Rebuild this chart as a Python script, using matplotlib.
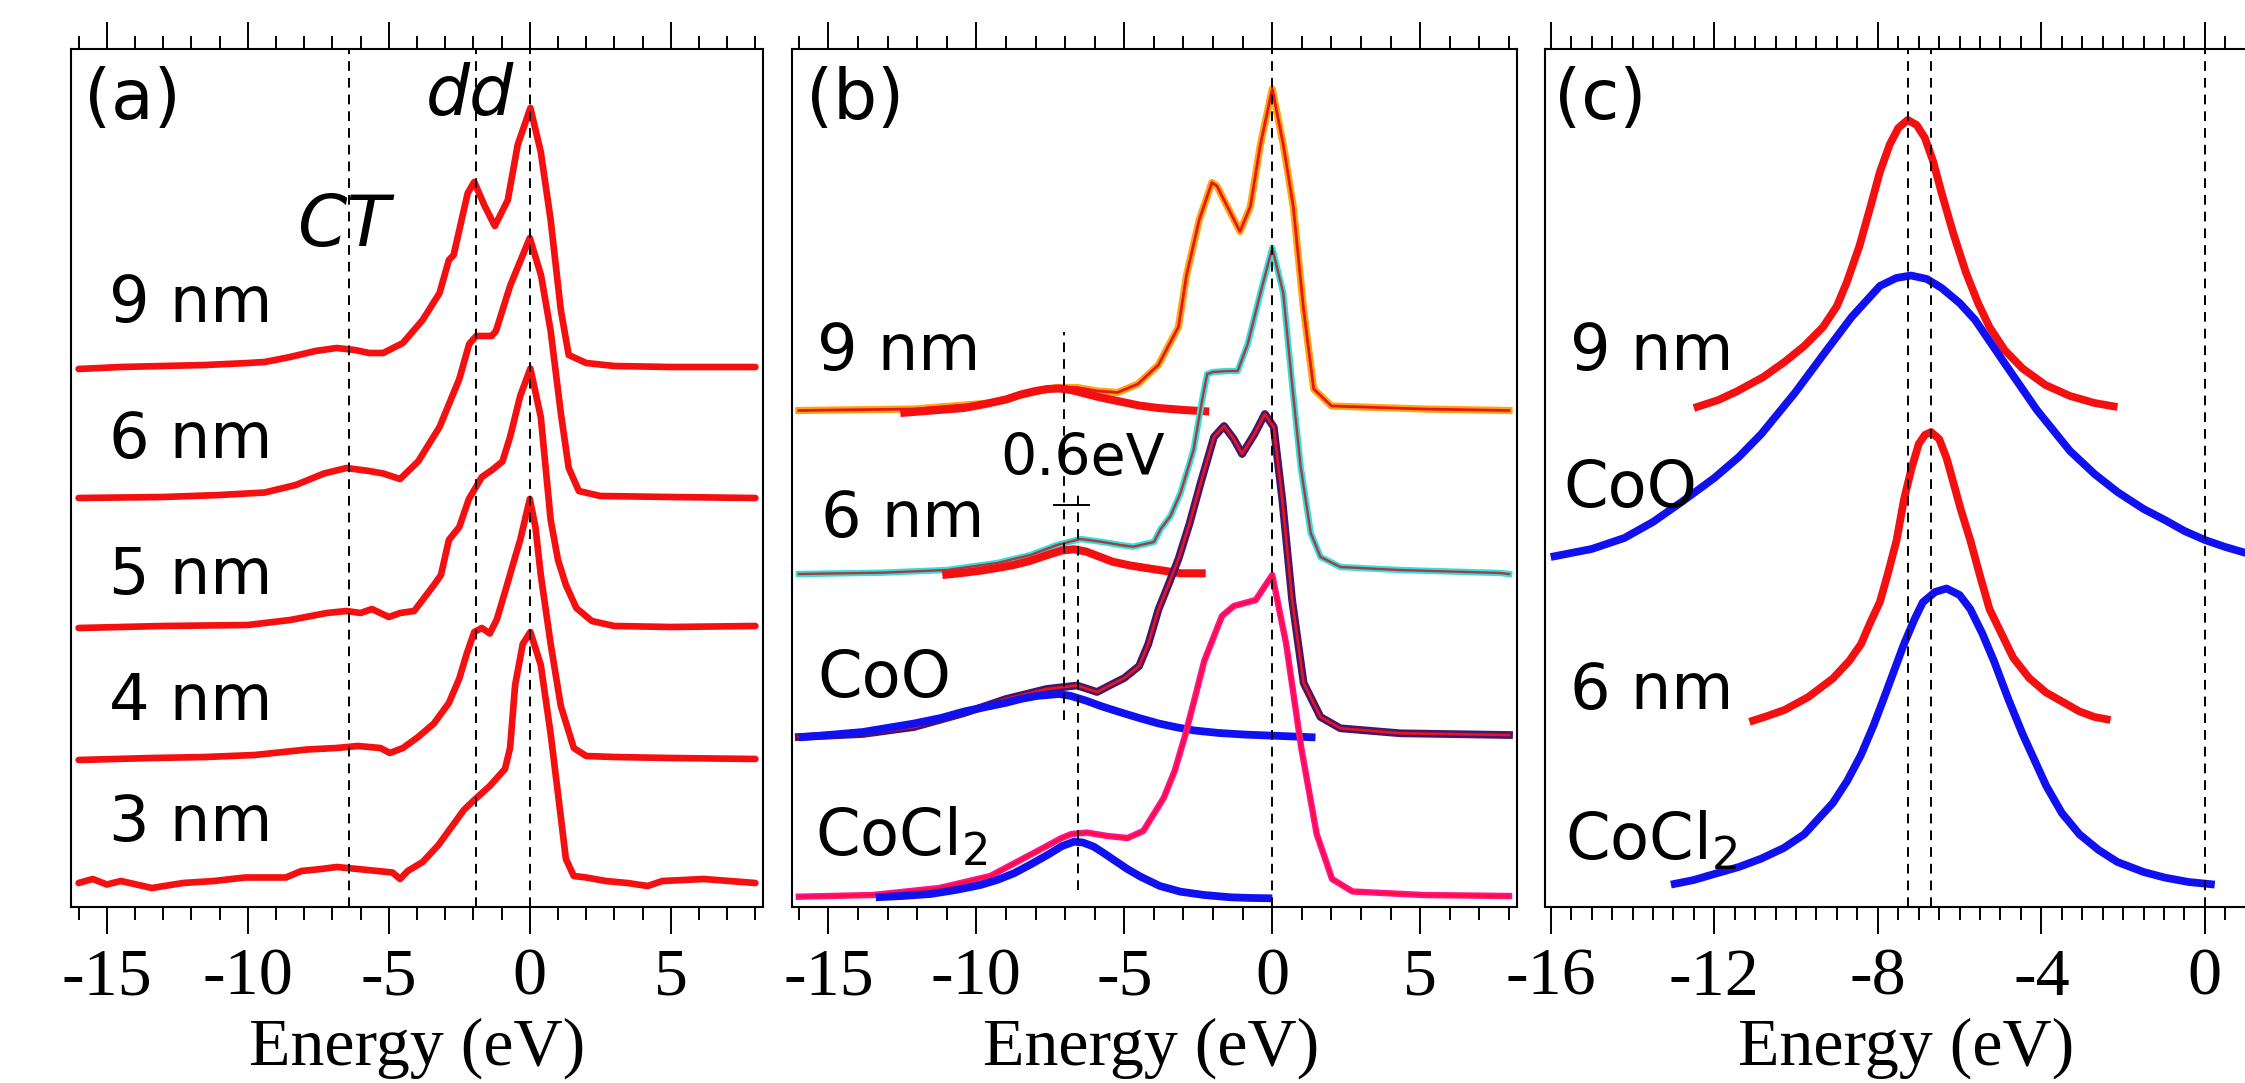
import matplotlib
matplotlib.use("Agg")
import matplotlib.pyplot as plt
from matplotlib.ticker import MultipleLocator

plt.rcParams["axes.unicode_minus"] = False
plt.rcParams["font.family"] = ["DejaVu Sans"]
plt.rcParams["mathtext.fontset"] = "dejavusans"

# ---------------- data: panel (a) ----------------
a_labels = ["9 nm", "6 nm", "5 nm", "4 nm", "3 nm"]
a_offsets = [5.39, 4.09, 2.80, 1.49, 0.24]

a9_E = [-16.0, -14.5, -13.0, -11.5, -10.0, -9.4, -8.5, -7.6, -6.85, -6.2, -5.7, -5.2, -4.5, -3.8, -3.2,
        -2.87, -2.7, -2.42, -2.2, -1.97, -1.6, -1.24, -0.78, -0.43, 0.02, 0.39, 0.74, 1.1, 1.38, 2.0, 3.0, 5.0, 8.0]
a9_I = [-0.01, 0.01, 0.02, 0.03, 0.05, 0.06, 0.11, 0.17, 0.20, 0.18, 0.15, 0.15, 0.25, 0.48, 0.75,
        1.08, 1.13, 1.48, 1.75, 1.86, 1.62, 1.42, 1.68, 2.23, 2.60, 2.16, 1.48, 0.58, 0.13, 0.05, 0.02, 0.01, 0.01]

a6_E = [-16.0, -13.0, -11.0, -9.4, -8.3, -7.3, -6.5, -5.7, -5.2, -4.6, -3.96, -3.2, -2.5, -2.15, -1.9,
        -1.35, -1.2, -0.7, -0.35, 0.0, 0.4, 0.74, 1.1, 1.38, 1.74, 2.5, 5.0, 8.0]
a6_I = [0.0, 0.01, 0.03, 0.055, 0.13, 0.245, 0.30, 0.27, 0.245, 0.19, 0.365, 0.71, 1.19, 1.54, 1.62,
        1.62, 1.67, 2.12, 2.36, 2.60, 2.225, 1.67, 0.85, 0.30, 0.07, 0.02, 0.01, 0.0]

a5_E = [-16.0, -13.0, -10.0, -8.5, -7.2, -6.5, -6.0, -5.6, -5.0, -4.6, -4.1, -3.4, -3.15, -2.87, -2.5,
        -2.16, -1.7, -1.34, -0.97, -0.70, -0.34, 0.02, 0.39, 0.74, 1.0, 1.28, 1.65, 2.2, 3.0, 5.0, 8.0]
a5_I = [-0.01, 0.01, 0.02, 0.07, 0.14, 0.16, 0.14, 0.18, 0.10, 0.14, 0.16, 0.42, 0.52, 0.87, 1.00,
        1.28, 1.50, 1.57, 1.655, 1.90, 2.31, 2.585, 2.10, 1.07, 0.67, 0.42, 0.19, 0.06, 0.01, 0.0, 0.01]

a4_E = [-16.0, -13.4, -11.5, -9.75, -7.9, -6.85, -6.1, -5.3, -4.96, -4.5, -3.96, -3.4, -2.87, -2.5, -2.24,
        -1.97, -1.7, -1.42, -1.17, -0.88, -0.52, -0.34, 0.0, 0.2, 0.39, 0.74, 1.1, 1.56, 2.0, 3.0, 5.0, 8.0]
a4_I = [-0.02, 0.0, 0.01, 0.03, 0.085, 0.10, 0.12, 0.10, 0.05, 0.10, 0.21, 0.345, 0.55, 0.795, 1.04,
        1.26, 1.30, 1.245, 1.385, 1.66, 2.01, 2.18, 2.59, 2.31, 1.83, 1.14, 0.52, 0.10, 0.02, 0.01, 0.0, -0.01]

a3_E = [-16.0, -15.5, -15.0, -14.5, -13.4, -12.3, -11.2, -10.1, -8.65, -8.1, -7.4, -6.85, -6.1, -5.4, -4.87,
        -4.6, -4.33, -3.8, -3.24, -2.7, -2.34, -1.97, -1.42, -0.88, -0.7, -0.52, -0.25, 0.02, 0.39, 0.74,
        1.1, 1.28, 1.56, 2.0, 2.7, 3.46, 4.18, 4.7, 6.17, 8.0]
a3_I = [0.0, 0.04, -0.015, 0.02, -0.05, 0.0, 0.02, 0.055, 0.055, 0.12, 0.14, 0.16, 0.14, 0.12, 0.105,
        0.04, 0.12, 0.21, 0.38, 0.59, 0.73, 0.83, 0.97, 1.14, 1.35, 1.98, 2.39, 2.51, 2.18, 1.49,
        0.66, 0.24, 0.07, 0.055, 0.02, 0.0, -0.03, 0.02, 0.04, 0.0]

a_dashes = [-6.42, -1.92, 0.0]

# ---------------- data: panel (b) ----------------
b_labels = ["9 nm", "6 nm", "CoO", "CoCl$_2$"]
b_offsets = [4.965, 3.33, 1.73, 0.11]

b9_E = [-16.0, -12.1, -9.54, -8.34, -7.3, -6.6, -5.9, -5.23, -4.54, -3.85, -3.17, -2.9, -2.47, -2.04,
        -1.87, -1.52, -1.09, -0.74, -0.4, 0.0, 0.37, 0.71, 1.06, 1.4, 2.0, 5.1, 8.0]
b9_I = [0.0, 0.015, 0.075, 0.165, 0.23, 0.23, 0.195, 0.18, 0.265, 0.455, 0.835, 1.35, 1.905, 2.28,
        2.245, 2.04, 1.79, 2.04, 2.66, 3.215, 2.66, 2.04, 1.005, 0.215, 0.045, 0.015, 0.0]
b9ct_E = [-12.57, -11.5, -10.42, -9.7, -9.0, -8.5, -8.0, -7.6, -7.2, -6.8, -6.27, -5.8, -5.23, -4.5,
          -3.85, -3.0, -2.13]
b9ct_I = [-0.025, 0.0, 0.025, 0.065, 0.11, 0.16, 0.195, 0.215, 0.22, 0.205, 0.165, 0.13, 0.095, 0.05,
          0.025, 0.005, -0.01]

b6_E = [-16.0, -13.2, -11.0, -9.3, -8.17, -7.27, -6.48, -5.8, -5.13, -4.7, -4.0, -3.77, -3.44, -3.1,
        -2.66, -2.37, -2.2, -2.0, -1.5, -1.17, -0.83, -0.4, 0.0, 0.37, 0.67, 0.96, 1.3, 1.63, 2.3, 4.3, 7.7, 8.0]
b6_I = [0.0, 0.013, 0.04, 0.11, 0.19, 0.29, 0.35, 0.323, 0.29, 0.273, 0.32, 0.45, 0.58, 0.81,
        1.24, 1.74, 2.0, 2.02, 2.03, 2.03, 2.30, 2.81, 3.26, 2.81, 1.90, 1.07, 0.41, 0.17, 0.07, 0.04, 0.01, 0.0]
b6ct_E = [-11.15, -10.5, -9.86, -9.3, -8.74, -8.2, -7.6, -7.1, -6.7, -6.3, -5.9, -5.4, -4.8, -4.2, -3.1, -2.25]
b6ct_I = [-0.01, 0.01, 0.033, 0.06, 0.09, 0.13, 0.19, 0.235, 0.247, 0.225, 0.18, 0.123, 0.085, 0.057,
          0.007, 0.007]

bCoO_E = [-16.0, -13.84, -12.1, -10.4, -9.0, -7.63, -6.6, -5.92, -5.4, -5.0, -4.5, -4.19, -3.84, -3.5,
          -3.17, -2.8, -2.42, -1.97, -1.63, -1.3, -1.02, -0.6, -0.25, 0.05, 0.34, 0.67, 1.06, 1.63, 2.3, 4.33, 8.0]
bCoO_I = [-0.03, 0.0, 0.07, 0.21, 0.35, 0.45, 0.485, 0.42, 0.50, 0.56, 0.68, 0.9, 1.25, 1.5,
          1.75, 2.1, 2.51, 2.97, 3.08, 2.95, 2.80, 3.0, 3.20, 3.07, 2.34, 1.34, 0.51, 0.17, 0.057, 0.007, -0.01]
bCoOfit_E = [-16.0, -15.0, -13.84, -12.1, -11.2, -10.4, -9.0, -8.5, -7.97, -7.2, -6.8, -6.26, -5.8, -5.23,
             -4.5, -3.84, -3.2, -2.63, -1.8, -0.91, 0.3, 1.46]
bCoOfit_I = [-0.034, -0.01, 0.02, 0.105, 0.16, 0.226, 0.312, 0.35, 0.38, 0.40, 0.38, 0.33, 0.28, 0.226,
             0.16, 0.105, 0.065, 0.035, 0.01, -0.006, -0.02, -0.034]

bCl_E = [-16.0, -13.5, -11.25, -9.53, -7.98, -7.12, -6.78, -6.26, -5.57, -4.89, -4.36, -3.67, -3.3, -2.95,
         -2.6, -2.3, -1.9, -1.7, -1.3, -0.56, 0.0, 0.47, 0.98, 1.5, 2.02, 2.71, 5.1, 8.0]
bCl_I = [-0.007, 0.01, 0.08, 0.2, 0.443, 0.58, 0.62, 0.634, 0.60, 0.58, 0.65, 0.98, 1.25, 1.6,
         2.0, 2.35, 2.65, 2.8, 2.9, 2.96, 3.21, 2.52, 1.48, 0.62, 0.17, 0.045, 0.01, 0.0]
bClfit_E = [-13.4, -12.5, -11.55, -10.7, -9.86, -9.3, -8.73, -8.2, -7.6, -7.1, -6.7, -6.4, -6.03, -5.7,
            -5.35, -4.9, -4.45, -3.8, -3.1, -2.3, -1.41, -0.7, 0.0]
bClfit_I = [-0.013, 0.0, 0.02, 0.06, 0.11, 0.16, 0.227, 0.31, 0.41, 0.5, 0.543, 0.535, 0.493, 0.43,
            0.36, 0.27, 0.193, 0.1, 0.043, 0.01, -0.013, -0.02, -0.023]

b_dash_E = [-7.03, -6.55, 0.0]
b_dash_lo = [1.87, 0.17, 0.0]
b_dash_hi = [5.75, 4.12, 8.58]
b_shift_E = [-7.39, -6.2]
b_shift_y = 4.02

# ---------------- data: panel (c) ----------------
c_labels = ["9 nm", "CoO", "6 nm", "CoCl$_2$"]
c_offsets = [4.99, 3.47, 1.86, 0.22]

c9_E = [-12.5, -11.9, -11.43, -10.8, -10.27, -9.8, -9.34, -9.0, -8.76, -8.45, -8.18, -7.95, -7.71, -7.5,
        -7.27, -7.05, -6.85, -6.65, -6.44, -6.15, -5.85, -5.55, -5.27, -4.9, -4.46, -3.9, -3.3, -2.7, -2.14]
c9_I = [0.0, 0.08, 0.17, 0.31, 0.464, 0.62, 0.81, 1.02, 1.256, 1.62, 2.014, 2.36, 2.634, 2.80,
        2.881, 2.83, 2.702, 2.47, 2.15, 1.74, 1.36, 1.05, 0.81, 0.58, 0.395, 0.23, 0.12, 0.05, 0.01]

cCoO_E = [-16.0, -15.0, -14.2, -13.5, -12.8, -12.0, -11.4, -10.85, -10.03, -9.34, -8.64, -7.95, -7.55,
          -7.19, -6.8, -6.44, -6.0, -5.62, -4.92, -4.11, -3.3, -2.7, -2.14, -1.5, -0.98, -0.5, 0.0, 0.5, 1.0]
cCoO_I = [0.03, 0.11, 0.22, 0.38, 0.58, 0.82, 1.03, 1.26, 1.67, 2.05, 2.43, 2.74, 2.82,
          2.845, 2.81, 2.72, 2.57, 2.40, 1.98, 1.50, 1.09, 0.86, 0.68, 0.51, 0.40, 0.29, 0.20, 0.13, 0.07]

c6_E = [-11.14, -10.7, -10.27, -9.7, -9.1, -8.7, -8.41, -8.2, -7.95, -7.75, -7.54, -7.36, -7.18, -7.0,
        -6.85, -6.7, -6.5, -6.32, -6.15, -5.97, -5.74, -5.5, -5.27, -4.69, -4.3, -3.89, -3.07, -2.7, -2.31]
c6_I = [-0.008, 0.05, 0.113, 0.24, 0.425, 0.6, 0.77, 0.97, 1.19, 1.48, 1.81, 2.216, 2.52, 2.77,
        2.86, 2.89, 2.82, 2.63, 2.38, 2.113, 1.81, 1.45, 1.12, 0.633, 0.43, 0.286, 0.096, 0.04, 0.01]

cCl_E = [-13.06, -12.5, -12.0, -11.4, -10.85, -10.3, -9.8, -9.1, -8.75, -8.41, -8.1, -7.83, -7.36, -7.1,
         -6.9, -6.6, -6.32, -6.0, -5.74, -5.45, -5.16, -4.8, -4.46, -3.88, -3.5, -3.07, -2.6, -2.14,
         -1.5, -0.98, -0.4, 0.24]
cCl_I = [0.004, 0.05, 0.11, 0.18, 0.264, 0.37, 0.507, 0.82, 1.04, 1.303, 1.6, 1.892, 2.41, 2.66,
         2.827, 2.93, 2.965, 2.9, 2.76, 2.52, 2.24, 1.85, 1.51, 0.99, 0.72, 0.507, 0.35, 0.23,
         0.13, 0.074, 0.03, 0.004]

c_dashes = [-7.27, -6.70, 0.0]

# ---------------- figure ----------------
W, H = 2245, 1083
fig = plt.figure(figsize=(W / 100, H / 100), dpi=100)


def px_rect(l, r, t, b):
    return [l / W, 1 - b / H, (r - l) / W, (b - t) / H]


axA = fig.add_axes(px_rect(71, 763, 49, 907))
axB = fig.add_axes(px_rect(792, 1517, 49, 907))
axC = fig.add_axes(px_rect(1545, 2245, 49, 907))

YLIM = (0, 8.58)
SERIF = "Liberation Serif"
DASH = dict(color="black", lw=1.4, ls=(0, (5, 3.6)), zorder=6)


def style(ax, xlim, major, minor, label_x):
    ax.set_xlim(*xlim)
    ax.set_ylim(*YLIM)
    ax.set_yticks([])
    ax.xaxis.set_major_locator(MultipleLocator(major))
    ax.xaxis.set_minor_locator(MultipleLocator(minor))
    ax.tick_params(axis="x", which="both", direction="out", top=True, bottom=True,
                   width=1.4, color="black")
    ax.tick_params(axis="x", which="major", length=19.5, pad=10, labelsize=49,
                   labelfontfamily=SERIF)
    ax.tick_params(axis="x", which="minor", length=9.7)
    for s in ax.spines.values():
        s.set_linewidth(1.5)
    ax.text(label_x, -0.184, "Energy (eV)", transform=ax.transAxes, ha="center",
            va="baseline", fontsize=49, family=SERIF)


# ---- panel (a)
style(axA, (-16.27, 8.27), 5, 1, 0.5)
a_E = [a9_E, a6_E, a5_E, a4_E, a3_E]
a_I = [a9_I, a6_I, a5_I, a4_I, a3_I]
for E, I, off in zip(a_E, a_I, a_offsets):
    axA.plot(E, [v + off for v in I], color="#f41010", lw=4.8, solid_joinstyle="round",
             solid_capstyle="round")
for x in a_dashes:
    axA.axvline(x, **DASH)
a_label_y = [0.6818, 0.5233, 0.3648, 0.2179, 0.0769]
for txt, y in zip(a_labels, a_label_y):
    axA.text(0.0549, y, txt, transform=axA.transAxes, fontsize=46, va="baseline", ha="left")
axA.text(0.019, 0.918, "(a)", transform=axA.transAxes, fontsize=50, va="baseline", ha="left")
axA.text(0.5766, 0.923, "dd", transform=axA.transAxes, fontsize=50, va="baseline", ha="center",
         style="italic")
axA.text(0.393, 0.7704, "CT", transform=axA.transAxes, fontsize=51, va="baseline", ha="center",
         style="italic")

# ---- panel (b)
style(axB, (-16.23, 8.27), 5, 1, 0.496)
o9, o6, oCoO, oCl = b_offsets
axB.plot(b9_E, [v + o9 for v in b9_I], color="#ffa510", lw=5.2, solid_joinstyle="round")
axB.plot(b9_E, [v + o9 for v in b9_I], color="#e8141e", lw=2.0, solid_joinstyle="round")
axB.plot(b9ct_E, [v + o9 for v in b9ct_I], color="#f41010", lw=5.8, solid_capstyle="butt")

axB.plot(b6_E, [v + o6 for v in b6_I], color="#30e0e0", lw=4.6, solid_joinstyle="round")
axB.plot(b6_E, [v + o6 for v in b6_I], color="#b03838", lw=1.7, solid_joinstyle="round")
axB.plot(b6ct_E, [v + o6 for v in b6ct_I], color="#f41010", lw=5.8, solid_capstyle="butt")

axB.plot(bCoO_E, [v + oCoO for v in bCoO_I], color="#4a1468", lw=5.6, solid_joinstyle="round")
axB.plot(bCoO_E, [v + oCoO for v in bCoO_I], color="#e8141e", lw=1.9, solid_joinstyle="round")
axB.plot(bCoOfit_E, [v + oCoO for v in bCoOfit_I], color="#1010f0", lw=5.6, solid_capstyle="butt")

axB.plot(bCl_E, [v + oCl for v in bCl_I], color="#ff10a0", lw=4.6, solid_joinstyle="round")
axB.plot(bCl_E, [v + oCl for v in bCl_I], color="#ff1030", lw=2.0, solid_joinstyle="round")
axB.plot(bClfit_E, [v + oCl for v in bClfit_I], color="#1010f0", lw=5.6, solid_capstyle="butt")

for x, lo, hi in zip(b_dash_E, b_dash_lo, b_dash_hi):
    axB.plot([x, x], [lo, hi], **DASH)
axB.plot(b_shift_E, [b_shift_y, b_shift_y], color="black", lw=1.4, zorder=6)

b_label_pos = [(0.0345, 0.6259), (0.04, 0.4312), (0.0345, 0.2448), (0.0317, 0.0606)]
for txt, (x, y) in zip(b_labels, b_label_pos):
    axB.text(x, y, txt, transform=axB.transAxes, fontsize=46, va="baseline", ha="left")
axB.text(0.0193, 0.918, "(b)", transform=axB.transAxes, fontsize=50, va="baseline", ha="left")
axB.text(0.4014, 0.5035, "0.6eV", transform=axB.transAxes, fontsize=41, va="baseline",
         ha="center")

# ---- panel (c)
style(axC, (-16.14, 0.98), 4, 0.5, 0.516)
axC.spines["right"].set_visible(False)
c_E = [c9_E, cCoO_E, c6_E, cCl_E]
c_I = [c9_I, cCoO_I, c6_I, cCl_I]
c_colors = ["#f41010", "#1010f0", "#f41010", "#1010f0"]
for E, I, off, col in zip(c_E, c_I, c_offsets, c_colors):
    axC.plot(E, [v + off for v in I], color=col, lw=5.6, solid_joinstyle="round",
             solid_capstyle="butt")
for x in c_dashes:
    axC.axvline(x, **DASH)
c_label_pos = [(0.0357, 0.6259), (0.0257, 0.4662), (0.0357, 0.2308), (0.0286, 0.0559)]
for txt, (x, y) in zip(c_labels, c_label_pos):
    axC.text(x, y, txt, transform=axC.transAxes, fontsize=46, va="baseline", ha="left")
axC.text(0.0129, 0.918, "(c)", transform=axC.transAxes, fontsize=50, va="baseline", ha="left")

fig.savefig("out.png", dpi=100)
